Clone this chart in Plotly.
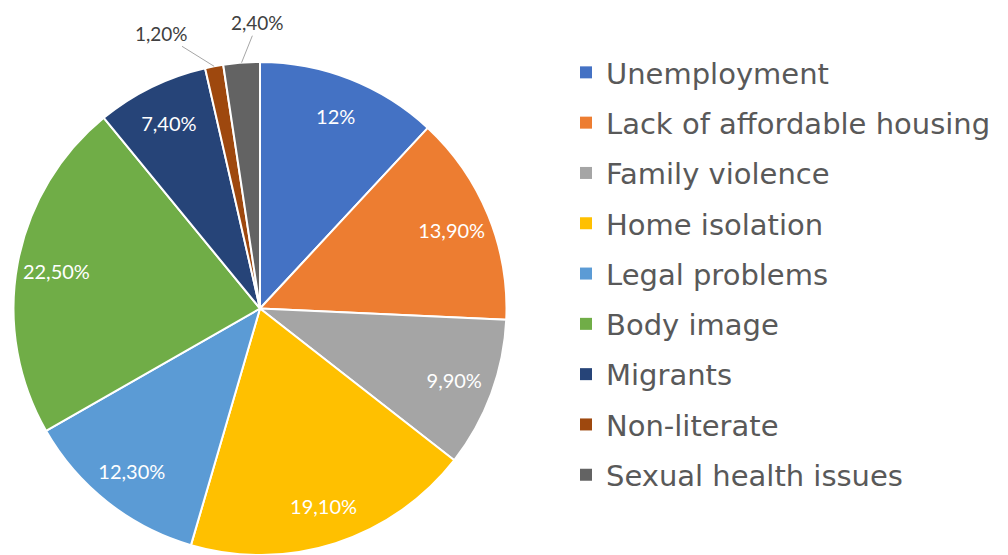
import math
import plotly.graph_objects as go

categories = ["Unemployment", "Lack of affordable housing", "Family violence",
              "Home isolation", "Legal problems", "Body image", "Migrants",
              "Non-literate", "Sexual health issues"]
values = [12.0, 13.9, 9.9, 19.1, 12.3, 22.5, 7.4, 1.2, 2.4]
value_labels = ["12%", "13,90%", "9,90%", "19,10%", "12,30%", "22,50%",
                "7,40%", "1,20%", "2,40%"]
colors = ["#4472C4", "#ED7D31", "#A5A5A5", "#FFC000", "#5B9BD5", "#70AD47",
          "#264478", "#9E480E", "#636363"]
is_outside = [False] * 7 + [True, True]
# callout offsets (pixels) for the outside labels: Non-literate, Sexual health issues
callout_offsets = {7: (-53, -33), 8: (16, -40)}

W, H = 1008, 555
dom_x = [13 / W, 507 / W]
dom_y = [0, (H - 62) / H]

fig = go.Figure()

# main pie: coloured slices
fig.add_trace(go.Pie(
    labels=categories,
    values=values,
    textposition="none",
    marker=dict(colors=colors, line=dict(color="white", width=2)),
    sort=False,
    direction="clockwise",
    rotation=0,
    domain=dict(x=dom_x, y=dom_y),
    showlegend=False,
))

# transparent ring carrying the inside labels (placed further out, as in Excel)
fig.add_trace(go.Pie(
    labels=categories,
    values=values,
    text=["" if o else t for t, o in zip(value_labels, is_outside)],
    texttemplate="%{text}",
    textposition=["none" if o else "inside" for o in is_outside],
    insidetextorientation="horizontal",
    textfont=dict(family="Lato", size=20, color="white"),
    marker=dict(colors=["rgba(0,0,0,0)"] * len(values),
                line=dict(color="rgba(0,0,0,0)", width=0)),
    hole=0.68,
    sort=False,
    direction="clockwise",
    rotation=0,
    domain=dict(x=dom_x, y=dom_y),
    showlegend=False,
    hoverinfo="skip",
))

# outside callout labels, anchored on the slice edge computed from the data
cx = (dom_x[0] + dom_x[1]) / 2 * W
cy = H - (dom_y[0] + dom_y[1]) / 2 * H
r = min((dom_x[1] - dom_x[0]) * W, (dom_y[1] - dom_y[0]) * H) / 2
total = sum(values)
cum = 0.0
for i, v in enumerate(values):
    mid = (cum + v / 2) / total * 2 * math.pi
    cum += v
    if not is_outside[i]:
        continue
    px = cx + r * math.sin(mid)
    py = cy - r * math.cos(mid)
    ax, ay = callout_offsets[i]
    fig.add_annotation(
        x=px / W, y=1 - py / H, xref="paper", yref="paper",
        text=value_labels[i], showarrow=True, arrowhead=0,
        arrowwidth=1, arrowcolor="#A6A6A6", standoff=0,
        ax=ax, ay=ay,
        font=dict(family="Lato", size=19, color="#404040"),
    )

# legend entries
for name, col in zip(categories, colors):
    fig.add_trace(go.Scatter(
        x=[None], y=[None], mode="markers", name=name,
        marker=dict(symbol="square", color=col, size=12),
        legendgroup=name, showlegend=True, hoverinfo="skip",
    ))

fig.update_layout(
    width=W, height=H,
    margin=dict(l=0, r=0, t=0, b=0),
    paper_bgcolor="white",
    plot_bgcolor="white",
    xaxis=dict(visible=False),
    yaxis=dict(visible=False),
    legend=dict(
        x=566 / W, y=1 - 47 / H, xanchor="left", yanchor="top",
        font=dict(family="DejaVu Sans", size=29, color="#595959"),
        itemsizing="constant",
        tracegroupgap=9.6,
        bgcolor="rgba(0,0,0,0)",
    ),
)

fig.write_html("out.html", config={"displayModeBar": False},
               post_script="document.body.style.margin='0px';")
